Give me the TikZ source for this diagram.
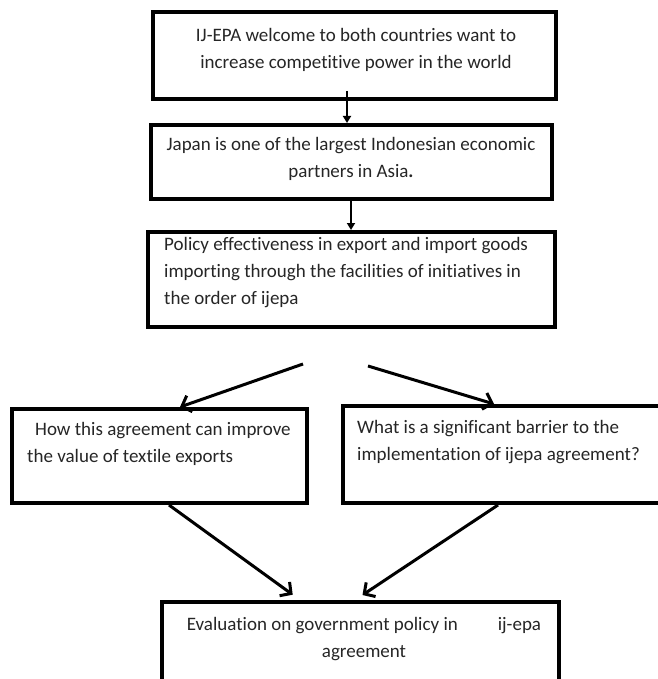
\documentclass[tikz,border=0pt]{standalone}
\usepackage{fontspec}
\setmainfont{Carlito}[Ligatures=NoCommon]
\usetikzlibrary{arrows.meta}
\tikzset{
  box/.style={draw=black, line width=4pt, inner sep=0pt, fill=white},
  txt/.style={inner sep=0pt, font=\fontsize{19}{27}\selectfont, text=black!85},
  varrow/.style={line width=2.6pt, -{Triangle[length=7pt,width=8pt]}},
  darrow/.style={line width=3pt, -{Straight Barb[length=8pt,width=17pt,line width=3pt]}},
}
\begin{document}
\begin{tikzpicture}[x=1pt,y=-1pt]
\useasboundingbox (0,0) rectangle (657,679);
% boxes
\node[box, minimum width=403pt, minimum height=87pt] (b1) at (354.5,55.5) {};
\node[box, minimum width=401pt, minimum height=74pt] (b2) at (351.5,162) {};
\node[box, minimum width=407pt, minimum height=95pt] (b3) at (351.5,279.5) {};
\node[box, minimum width=295pt, minimum height=94pt] (bl) at (159.5,456) {};
\node[box, minimum width=329pt, minimum height=97pt] (br) at (507.5,454.5) {};
\node[box, minimum width=397pt, minimum height=98pt] (bb) at (360.5,651) {};
% texts
\node[txt, align=center] (t1) at (356,49.5) {IJ-EPA welcome to both countries want to\\increase competitive power in the world};
\node[txt, align=center] (t2) at (351,158.5) {Japan is one of the largest Indonesian economic\\partners in Asia\textbf{.}};
\node[txt, align=left, anchor=west] (t3) at (164,272.5) {Policy effectiveness in export and import goods\\importing through the facilities of initiatives in\\the order of ijepa};
\node[txt, align=left, anchor=west] (tl) at (27,443.5) {\hspace{8pt}How this agreement can improve\\the value of textile exports};
\node[txt, align=left, anchor=west] (tr) at (357,442.5) {What is a significant barrier to the\\implementation of ijepa agreement?};
\node[txt, align=center] (tb) at (364,639) {Evaluation on government policy in\hspace{40pt}ij-epa\\agreement};
% connectors
\coordinate (sl) at (303,364);
\coordinate (sr) at (368,366);
\draw[varrow] ([xshift=-7.5pt,yshift=10pt]b1.south) -- ([xshift=-4.5pt]b2.north);
\draw[varrow] ([xshift=-0.5pt]b2.south) -- ([xshift=-0.5pt]b3.north);
\draw[darrow] (sl) -- ([xshift=20.5pt]bl.north);
\draw[darrow] (sr) -- ([xshift=-13.5pt]br.north);
\draw[darrow, shorten >=9pt] ([xshift=9.5pt]bl.south) -- ([xshift=-60.5pt]bb.north);
\draw[darrow, shorten >=9pt] ([xshift=-9.5pt]br.south) -- ([xshift=-5.5pt]bb.north);
\end{tikzpicture}
\end{document}
